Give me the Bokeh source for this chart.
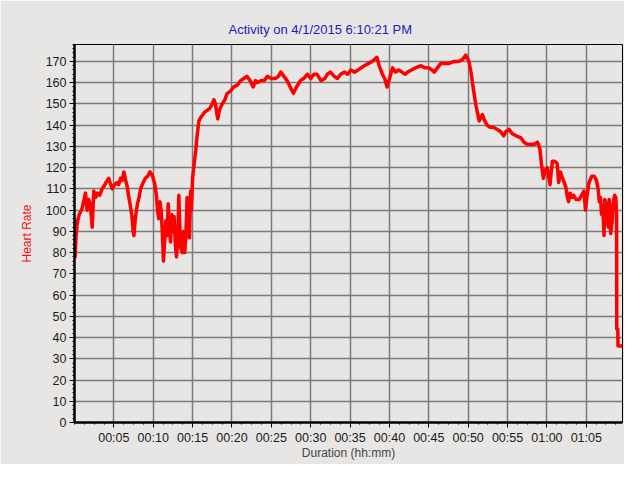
from bokeh.plotting import figure
from bokeh.models import FixedTicker, Range1d
from bokeh.embed import file_html
from bokeh.resources import INLINE

# Duration in minutes and heart rate (bpm)
minutes = [0.00, 0.08, 0.20, 0.35, 0.6, 0.9, 1.1, 1.4, 1.6, 1.8, 2.0, 2.25, 2.45, 2.7, 2.9,
           3.2, 3.5, 3.7, 4.0, 4.35, 4.6, 4.8, 5.1, 5.4, 5.6, 5.85, 6.05, 6.27, 6.5, 6.7,
           6.9, 7.1, 7.3, 7.45, 7.55, 7.65, 7.75, 8.0, 8.2, 8.4, 8.6, 9.0, 9.3, 9.57, 9.8,
           10.0, 10.2, 10.4, 10.55, 10.7, 10.85, 11.0, 11.15, 11.3, 11.45, 11.6, 11.75, 11.9,
           12.05, 12.2, 12.35, 12.5, 12.65, 12.8, 12.95, 13.1, 13.25, 13.35, 13.5, 13.7,
           13.85, 14.0, 14.15, 14.3, 14.45, 14.6, 14.75, 14.85, 15.0, 15.2, 15.4, 15.6,
           15.8, 16.1, 16.5, 16.85, 17.2, 17.5, 17.7, 17.9, 18.05, 18.2, 18.4, 18.75, 19.1,
           19.4, 19.8, 20.2, 20.7, 21.1, 21.5, 21.9, 22.3, 22.7, 23.0, 23.2, 23.7, 24.1,
           24.5, 25.0, 25.5, 25.9, 26.2, 26.6, 27.0, 27.4, 27.8, 28.2, 28.7, 29.1, 29.6,
           30.0, 30.4, 30.8, 31.3, 31.8, 32.1, 32.5, 33.0, 33.4, 33.8, 34.3, 34.7, 35.1,
           35.6, 36.0, 36.4, 36.8, 37.3, 37.8, 38.4, 38.7, 39.1, 39.4, 39.7, 40.0, 40.4,
           40.8, 41.2, 41.6, 42.0, 42.3, 42.8, 43.3, 44.0, 44.5, 45.0, 45.4, 45.7, 46.1,
           46.5, 47.0, 47.5, 48.2, 48.8, 49.3, 49.7, 50.1, 50.4, 50.7, 51.0, 51.4, 51.8,
           52.1, 52.4, 52.8, 53.2, 53.7, 54.1, 54.5, 54.8, 55.2, 55.6, 56.1, 56.7, 57.1,
           57.5, 58.0, 58.4, 58.8, 59.1, 59.3, 59.55, 59.8, 60.05, 60.25, 60.4, 60.55,
           60.7, 61.0, 61.3, 61.5, 61.7, 62.0, 62.4, 62.6, 62.75, 62.95, 63.2, 63.4, 63.7,
           64.1, 64.4, 64.7, 64.9, 65.1, 65.35, 65.7, 66.0, 66.3, 66.5, 66.65, 66.8, 66.95,
           67.1, 67.25, 67.35, 67.5, 67.65, 67.8, 67.9, 68.0, 68.1, 68.3, 68.45, 68.6,
           68.75, 68.85, 68.87, 69.0, 69.03, 69.6]
heart_rate = [96, 78, 88, 94, 98, 100, 103, 108, 100, 105, 103, 92, 109, 106, 108,
              107, 110, 111, 113, 115, 112, 110, 112, 113, 112, 115, 114, 118, 114, 111,
              106, 102, 97, 90, 88, 93, 97, 103, 106, 110, 112, 115, 116, 118, 117,
              115, 112, 107, 100, 96, 104, 100, 90, 76, 85, 95, 88, 103,
              93, 85, 98, 90, 97, 84, 78, 85, 107, 95, 82, 80,
              90, 80, 88, 106, 92, 87, 109, 100, 115, 122, 128, 136,
              142, 144, 146, 147, 148, 150, 152, 150, 146, 143, 147, 150, 152,
              155, 156, 158, 159, 161, 162, 163, 161, 158, 161, 160, 161, 161,
              163, 162, 162, 163, 165, 163, 161, 158, 155, 158, 161, 162, 164,
              162, 164, 164, 161, 162, 164, 165, 163, 162, 164, 165, 164, 166,
              165, 166, 167, 168, 169, 170, 172, 168, 164, 162, 158, 162, 167,
              165, 166, 165, 164, 165, 166, 167, 168, 167, 167, 166, 165, 167,
              169, 169, 169, 170, 170, 171, 173, 170, 164, 156, 149, 142, 145,
              142, 140, 139, 139, 138, 137, 135, 137, 138, 136, 135, 134, 132,
              131, 131, 131, 132, 129, 122, 115, 119, 120, 115, 112, 118,
              123, 123, 122, 113, 118, 115, 111, 106, 104, 108, 106, 107, 105,
              105, 107, 109, 100, 107, 113, 116, 116, 114, 110, 104, 106, 98,
              102, 88, 105, 103, 96, 92, 105, 101, 89, 95, 104, 107,
              106, 98, 44, 44, 36, 36]

y_ticks = list(range(0, 171, 10))
x_ticks = [5, 10, 15, 20, 25, 30, 35, 40, 45, 50, 55, 60, 65]
x_tick_labels = ["00:05", "00:10", "00:15", "00:20", "00:25", "00:30", "00:35",
                 "00:40", "00:45", "00:50", "00:55", "01:00", "01:05"]

BG = "#e8e6e4"
FONT = "Liberation Sans"

p = figure(width=624, height=464, output_backend="svg", toolbar_location=None,
           x_range=Range1d(0, 69.6), y_range=Range1d(0, 178),
           title="Activity on 4/1/2015 6:10:21 PM",
           min_border_left=74, min_border_right=2, min_border_top=44, min_border_bottom=42)

p.background_fill_color = BG
p.border_fill_color = BG
p.outline_line_color = "black"
p.outline_line_width = 1

p.title.align = "left"
p.title.offset = 154
p.title.text_color = "#2020bb"
p.title.text_font = FONT
p.title.text_font_size = "13px"
p.title.text_font_style = "normal"
p.title.standoff = 16

p.line(minutes, heart_rate, line_color="#ff0000", line_width=3.5, line_join="round")

xa = p.xaxis[0]
xa.ticker = FixedTicker(ticks=x_ticks, minor_ticks=[i * 1.25 for i in range(0, 56)])
xa.major_label_overrides = {t: l for t, l in zip(x_ticks, x_tick_labels)}
xa.axis_label = "Duration (hh:mm)"

ya = p.yaxis[0]
ya.ticker = FixedTicker(ticks=y_ticks, minor_ticks=list(range(0, 179, 2)))
ya.axis_label = "Heart Rate"
ya.axis_label_text_color = "#ee1111"

for ax in (xa, ya):
    ax.axis_line_color = "black"
    ax.axis_line_width = 2.5
    ax.major_tick_line_color = "black"
    ax.major_tick_out = 5
    ax.major_tick_in = 0
    ax.minor_tick_line_color = "black"
    ax.minor_tick_out = 2
    ax.minor_tick_in = 0
    ax.major_label_text_font = FONT
    ax.major_label_text_font_size = "12.5px"
    ax.major_label_text_color = "#1a1a1a"
    ax.major_label_standoff = 3
    ax.axis_label_text_font = FONT
    ax.axis_label_text_font_size = "12px"
    ax.axis_label_text_font_style = "normal"
xa.axis_label_standoff = -2
ya.axis_label_standoff = 9

for g, tk in ((p.xgrid[0], x_ticks), (p.ygrid[0], y_ticks)):
    g.ticker = FixedTicker(ticks=tk)
    g.grid_line_color = "#7a7a7a"
    g.grid_line_width = 1.5

open("out.html", "w").write(file_html(p, INLINE))
